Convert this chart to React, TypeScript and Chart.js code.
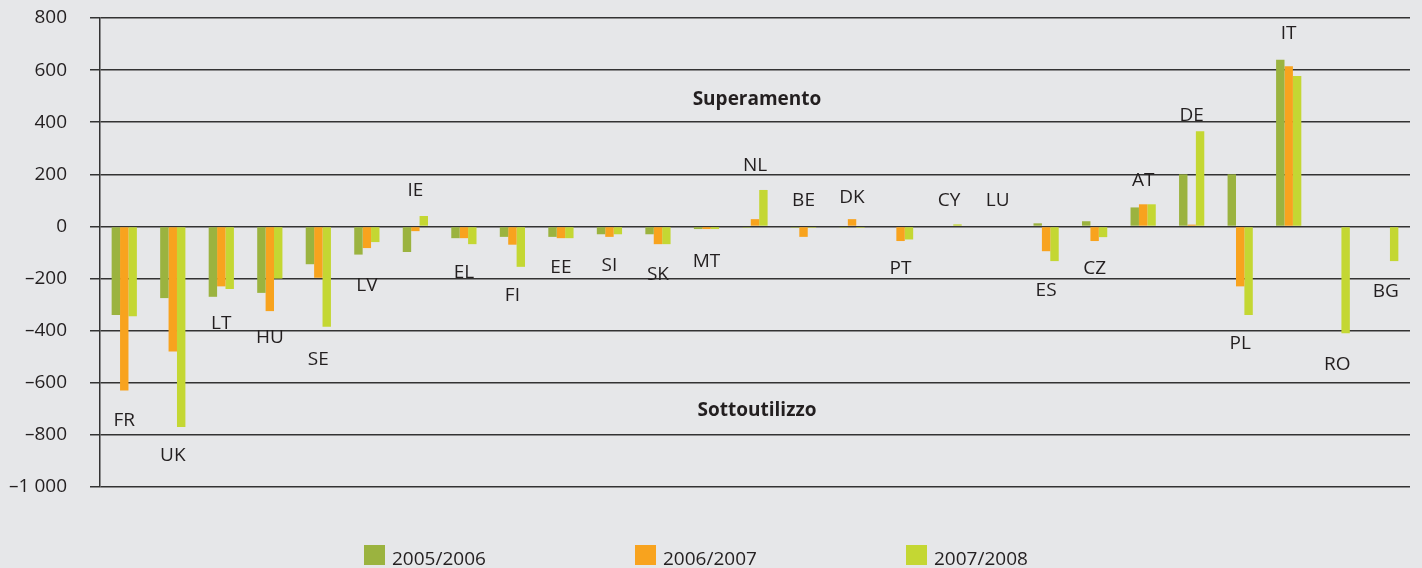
import { useEffect, useRef } from 'react';
import { Chart, registerables } from 'chart.js';

Chart.register(...registerables);

// ---- Data ----
const countries = ['FR', 'UK', 'LT', 'HU', 'SE', 'LV', 'IE', 'EL', 'FI', 'EE', 'SI', 'SK', 'MT', 'NL', 'BE', 'DK', 'PT', 'CY', 'LU', 'ES', 'CZ', 'AT', 'DE', 'PL', 'IT', 'RO', 'BG'];
const values0506 = [-340, -275, -270, -255, -145, -108, -98, -45, -40, -40, -30, -30, -10, -5, -5, -5, 0, 0, 0, 12, 20, 73, 200, 200, 640, 0, 0];
const values0607 = [-630, -480, -230, -325, -197, -83, -18, -45, -70, -45, -40, -68, -10, 28, -40, 28, -56, 0, 0, -95, -56, 85, 7, -230, 615, 0, 0];
const values0708 = [-345, -770, -240, -200, -385, -60, 40, -68, -155, -45, -30, -68, -10, 140, -5, -5, -50, 8, 0, -133, -41, 85, 365, -340, 577, -410, -133];
// vertical position (in axis units) of each country's name
const countryLabelY = [-745, -880, -373, -427, -511, -227, 138, -177, -265, -158, -150, -185, -135, 235, 100, 112, -161, 100, 100, -246, -161, 177, 427, -450, 742, -531, -250];
const seriesNames = ['2005/2006', '2006/2007', '2007/2008'];
const seriesColors = ['#9BB33F', '#F8A31E', '#C4D733'];
const yMin = -1000;
const yMax = 800;
const yStep = 200;
const zoneLabels = ['Superamento', 'Sottoutilizzo'];
const zoneLabelY = [485, -708];

const BG = '#E6E7E9';
const TEXT = '#231F20';
const GRID = '#333333';
const FONT = '"Open Sans", "DejaVu Sans", sans-serif';

function fmtTick(v: number): string {
  const a = Math.abs(v);
  const s = a >= 1000 ? Math.floor(a / 1000) + ' ' + String(a % 1000).padStart(3, '0') : String(a);
  return v < 0 ? '\u2013' + s : s;
}

const bgPlugin = {
  id: 'bgFill',
  beforeDraw(chart: any) {
    const ctx = chart.ctx;
    ctx.save();
    ctx.fillStyle = BG;
    ctx.fillRect(0, 0, chart.width, chart.height);
    ctx.restore();
  },
};

const textPlugin = {
  id: 'countryText',
  afterDatasetsDraw(chart: any) {
    const ctx = chart.ctx;
    const xs = chart.scales.x;
    const ys = chart.scales.y;
    ctx.save();
    ctx.fillStyle = TEXT;
    ctx.textAlign = 'center';
    ctx.textBaseline = 'middle';
    ctx.font = '19px ' + FONT;
    countries.forEach((c, i) => {
      ctx.fillText(c, xs.getPixelForValue(i), ys.getPixelForValue(countryLabelY[i]));
    });
    ctx.font = 'bold 19px ' + FONT;
    const cx = (chart.chartArea.left + chart.chartArea.right) / 2 + 2;
    zoneLabels.forEach((t, i) => {
      ctx.fillText(t, cx, ys.getPixelForValue(zoneLabelY[i]));
    });
    ctx.restore();
  },
};

const legendPlugin = {
  id: 'customLegend',
  afterDraw(chart: any) {
    const ctx = chart.ctx;
    ctx.save();
    ctx.font = '19px ' + FONT;
    ctx.textAlign = 'left';
    ctx.textBaseline = 'alphabetic';
    const startX = 364;
    const pitch = 271;
    seriesNames.forEach((name, i) => {
      const x = startX + i * pitch;
      ctx.fillStyle = seriesColors[i];
      ctx.fillRect(x, 545, 21, 20);
      ctx.fillStyle = TEXT;
      ctx.fillText(name, x + 28, 565);
    });
    ctx.restore();
  },
};

export default function App() {
  const ref = useRef<HTMLCanvasElement | null>(null);

  useEffect(() => {
    document.body.style.margin = '0';
    document.body.style.background = BG;
    const canvas = ref.current;
    if (!canvas) return;
    const seriesValues = [values0506, values0607, values0708];
    const chart = new Chart(canvas, {
      type: 'bar',
      data: {
        labels: countries,
        datasets: seriesNames.map((name, i) => ({
          label: name,
          data: seriesValues[i],
          backgroundColor: seriesColors[i],
          borderWidth: 0,
          barPercentage: 1,
          categoryPercentage: 0.52,
        })),
      },
      options: {
        responsive: false,
        animation: false,
        devicePixelRatio: 1,
        layout: { padding: { top: 18, right: 12, left: 0, bottom: 0 } },
        plugins: {
          legend: { display: false },
          tooltip: { enabled: false },
          title: { display: false },
        },
        scales: {
          x: {
            ticks: { display: false },
            grid: { display: false },
            border: { display: false },
            afterFit: (s: any) => {
              s.height = 81;
              s.paddingLeft = 0;
              s.paddingRight = 0;
            },
          },
          y: {
            min: yMin,
            max: yMax,
            ticks: {
              stepSize: yStep,
              padding: 23,
              color: TEXT,
              font: { family: FONT, size: 19 },
              callback: (v: any) => fmtTick(Number(v)),
            },
            grid: {
              color: GRID,
              lineWidth: 1.5,
              tickLength: 10,
              drawTicks: true,
            },
            border: { display: true, color: GRID, width: 1.5 },
            afterFit: (s: any) => {
              s.width = 100;
              s.paddingTop = 0;
              s.paddingBottom = 0;
            },
          },
        },
      },
      plugins: [bgPlugin, textPlugin, legendPlugin],
    });
    return () => chart.destroy();
  }, []);

  return (
    <div style={{ width: 1422, height: 568, background: BG }}>
      <canvas ref={ref} width={1422} height={568} style={{ display: 'block' }} />
    </div>
  );
}
